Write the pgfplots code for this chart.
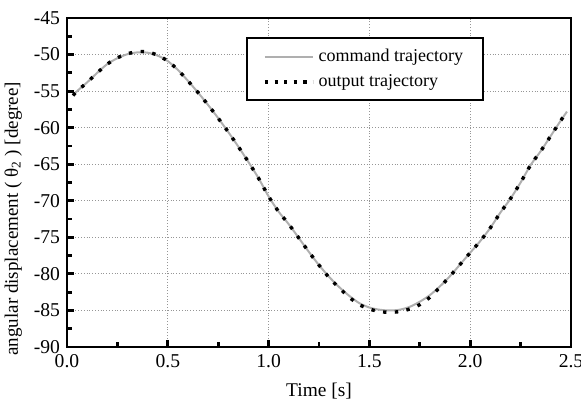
\documentclass[border=0pt]{standalone}
\usepackage{fontspec}
\setmainfont{Liberation Serif}
\usepackage{pgfplots}
\pgfplotsset{compat=1.18}

\definecolor{cmdgray}{RGB}{175,175,175}
\definecolor{gridgray}{RGB}{150,150,150}

\begin{document}
\begin{tikzpicture}[font=\fontsize{9}{10.8}\selectfont]
\begin{axis}[
    name=ax,
    scale only axis,
    width=252pt, height=164.5pt,
    xmin=0, xmax=2.5,
    ymin=-90, ymax=-45,
    xtick={0,0.5,...,2.5},
    ytick={-90,-85,...,-45},
    minor xtick={0.25,0.75,...,2.25},
    minor ytick={-87.5,-82.5,...,-47.5},
    xtick pos=bottom, ytick pos=left,
    tick align=inside,
    major tick length=3.5pt,
    minor tick length=2.5pt,
    every tick/.style={black, line width=1.4pt},
    axis line style={line width=1.3pt},
    grid=major,
    major grid style={gridgray, densely dotted, line width=0.5pt},
    /pgf/number format/assume math mode=true,
    ticklabel style={font=\fontsize{9.8}{11}\selectfont},
    xticklabel style={/pgf/number format/.cd, fixed, fixed zerofill, precision=1},
    yticklabel style={/pgf/number format/.cd, fixed},
    xlabel={Time [s]},
    ylabel={angular displacement ( θ\textsubscript{2} ) [degree]},
    xlabel style={yshift=-1pt, font=\fontsize{9.7}{11}\selectfont},
    ylabel style={at={(ticklabel cs:0.39)}, yshift=-1pt, font=\fontsize{9.5}{11}\selectfont},
    legend style={
        at={(0.356,0.942)}, anchor=north west,
        draw=black, line width=0.9pt,
        inner xsep=8pt, inner ysep=3.5pt,
        row sep=1pt,
        font=\fontsize{9}{10.8}\selectfont,
        legend cell align=left,
    },
]

% command trajectory
\addplot[cmdgray, line width=1pt, smooth,
    legend image code/.code={\draw[cmdgray, line width=0.8pt] (0pt,0pt) -- (24pt,0pt);}]
coordinates {
    (0.03,-55.6) (0.05,-55.0) (0.10,-53.8) (0.15,-52.5) (0.20,-51.3)
    (0.25,-50.5) (0.30,-49.95) (0.35,-49.7) (0.40,-49.75) (0.45,-50.15)
    (0.50,-50.9) (0.55,-52.1) (0.60,-53.6) (0.65,-55.2) (0.70,-56.9)
    (0.75,-58.7) (0.80,-60.6) (0.85,-62.6) (0.90,-64.7) (0.95,-66.9)
    (1.00,-69.4) (1.05,-71.5) (1.10,-73.2) (1.15,-75.1) (1.20,-77.0)
    (1.25,-78.8) (1.30,-80.4) (1.35,-81.8) (1.40,-83.0) (1.45,-84.0)
    (1.50,-84.6) (1.55,-84.9) (1.60,-85.0) (1.65,-84.9) (1.70,-84.5)
    (1.75,-83.8) (1.80,-82.9) (1.85,-81.7) (1.90,-80.3) (1.95,-78.7)
    (2.00,-77.1) (2.05,-75.5) (2.10,-73.7) (2.15,-71.6) (2.20,-69.7)
    (2.25,-67.5) (2.30,-65.1) (2.35,-63.2) (2.40,-61.1) (2.45,-59.0)
    (2.48,-57.8)
};
\addlegendentry{command trajectory}

% output trajectory
\addplot[black, line width=1.7pt, dash pattern=on 1.7pt off 4.2pt, smooth,
    legend image code/.code={\draw[black, line width=1.6pt, dash pattern=on 1.6pt off 3.2pt] (0pt,0pt) -- (24pt,0pt);}]
coordinates {
    (0.03,-55.6) (0.05,-55.0) (0.10,-53.8) (0.15,-52.5) (0.20,-51.3)
    (0.25,-50.45) (0.30,-49.9) (0.35,-49.6) (0.40,-49.65) (0.45,-50.1)
    (0.50,-50.9) (0.55,-52.1) (0.60,-53.6) (0.65,-55.2) (0.70,-56.9)
    (0.75,-58.7) (0.80,-60.6) (0.85,-62.6) (0.90,-64.7) (0.95,-66.9)
    (1.00,-69.4) (1.05,-71.5) (1.10,-73.2) (1.15,-75.1) (1.20,-77.0)
    (1.25,-78.8) (1.30,-80.5) (1.35,-81.9) (1.40,-83.2) (1.45,-84.2)
    (1.50,-84.8) (1.55,-85.15) (1.60,-85.25) (1.65,-85.15) (1.70,-84.8)
    (1.75,-84.2) (1.80,-83.2) (1.85,-81.8) (1.90,-80.3) (1.95,-78.7)
    (2.00,-77.1) (2.05,-75.5) (2.10,-73.7) (2.15,-71.6) (2.20,-69.7)
    (2.25,-67.5) (2.30,-65.1) (2.35,-63.2) (2.40,-61.1) (2.45,-59.0)
    (2.48,-57.8)
};
\addlegendentry{output trajectory}
\end{axis}
\pgfresetboundingbox
\path ([xshift=-33.5pt,yshift=-28pt]ax.south west) rectangle ([xshift=5pt,yshift=9pt]ax.north east);
\end{tikzpicture}
\end{document}
